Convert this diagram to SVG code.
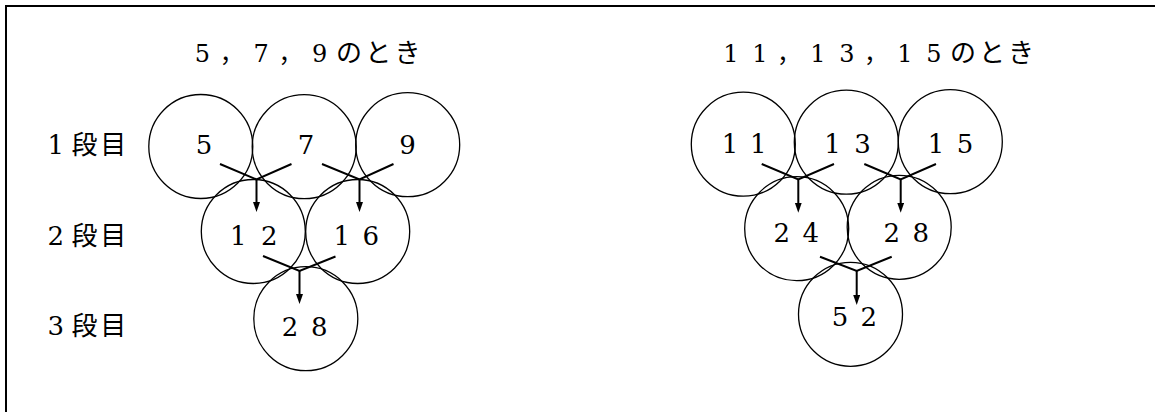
<svg xmlns="http://www.w3.org/2000/svg" width="1155" height="412" viewBox="0 0 1155 412">
<style>
.c{fill:none;stroke:#000;stroke-width:1.3}
.t{font-family:"DejaVu Serif","Noto Sans CJK JP",serif;font-size:26px;fill:#000;text-anchor:middle}
.h{font-family:"DejaVu Serif","Noto Sans CJK JP",serif;font-size:24px;fill:#000;text-anchor:middle}
.j{font-family:"Noto Sans CJK JP",sans-serif;font-size:26px}
.k{fill:none;stroke:#000;stroke-width:2}
.a{fill:none;stroke:#000;stroke-width:2;marker-end:url(#ah)}
</style>
<defs>
<marker id="ah" markerUnits="userSpaceOnUse" markerWidth="10" markerHeight="8" refX="2" refY="3.5" orient="auto">
<path d="M0,0 L10,3.5 L0,7 z" fill="#000"/>
</marker>
</defs>
<rect width="1155" height="412" fill="#fff"/>
<g id="frame">
<line x1="6" y1="6" x2="1155" y2="6" stroke="#000" stroke-width="2"/>
<line x1="6" y1="5" x2="6" y2="412" stroke="#000" stroke-width="2"/>
</g>
<g id="titles">
<text class="h" x="202.5 231.8 261.1 290.4 319.7" y="62">5，7，9<tspan class="j" x="349 378.3 407.6">のとき</tspan></text>
<text class="h" x="730.8 759.9 789 818 847 876 905 934" y="62">11，13，15<tspan class="j" x="963 992 1021">のとき</tspan></text>
</g>
<g id="labels">
<text id="label1" class="t" x="55.8" y="154">1<tspan class="j" x="84.5 113.3">段目</tspan></text>
<text id="label2" class="t" x="55.8" y="245">2<tspan class="j" x="84.5 113.3">段目</tspan></text>
<text id="label3" class="t" x="55.8" y="335">3<tspan class="j" x="84.5 113.3">段目</tspan></text>
</g>
<g id="n5"><circle class="c" cx="200.8" cy="146.5" r="52"/><text class="t" x="204" y="153.5">5</text></g>
<g id="n7"><circle class="c" cx="304.2" cy="146.7" r="52"/><text class="t" x="306" y="153.5">7</text></g>
<g id="n9"><circle class="c" cx="407.7" cy="144.7" r="52"/><text class="t" x="407.5" y="153.5">9</text></g>
<g id="n12"><circle class="c" cx="253.3" cy="231.5" r="52"/><text class="t" x="238.3 269.2" y="245">12</text></g>
<g id="n16"><circle class="c" cx="357.7" cy="231.5" r="52"/><text class="t" x="341.7 370.8" y="245">16</text></g>
<g id="n28a"><circle class="c" cx="305.8" cy="318.7" r="52"/><text class="t" x="290 319.2" y="336">28</text></g>
<g id="n11"><circle class="c" cx="743.3" cy="144.2" r="52"/><text class="t" x="730 758.3" y="153.3">11</text></g>
<g id="n13"><circle class="c" cx="846.3" cy="142.2" r="52"/><text class="t" x="832.5 862.5" y="153.3">13</text></g>
<g id="n15"><circle class="c" cx="950.3" cy="141.7" r="52"/><text class="t" x="936 965" y="153.3">15</text></g>
<g id="n24"><circle class="c" cx="796.7" cy="228.7" r="52"/><text class="t" x="781.7 810.8" y="241.7">24</text></g>
<g id="n28b"><circle class="c" cx="899.2" cy="227.3" r="52"/><text class="t" x="891.7 920.8" y="241.7">28</text></g>
<g id="n52"><circle class="c" cx="850.5" cy="314.3" r="52"/><text class="t" x="840 868.8" y="326">52</text></g>
<g id="connectors">
<polyline class="k" points="220,164 256.5,179.5 291.5,164"/>
<line class="a" x1="256.5" y1="179.5" x2="256.5" y2="204"/>
<polyline class="k" points="322,164 359.5,179.5 393.5,164"/>
<line class="a" x1="359.5" y1="179.5" x2="359.5" y2="204"/>
<polyline class="k" points="263,256 299.5,271 335.5,256.5"/>
<line class="a" x1="299.5" y1="271" x2="299.5" y2="296"/>
<polyline class="k" points="761.7,164 798.3,179.3 834,164"/>
<line class="a" x1="798.3" y1="179.3" x2="798.3" y2="204.7"/>
<polyline class="k" points="864.3,164 900.7,179.3 936,164"/>
<line class="a" x1="900.7" y1="179.3" x2="900.7" y2="204.7"/>
<polyline class="k" points="820,256.7 856.7,271 891.7,256.7"/>
<line class="a" x1="856.7" y1="271" x2="856.7" y2="297"/>
</g>
</svg>
